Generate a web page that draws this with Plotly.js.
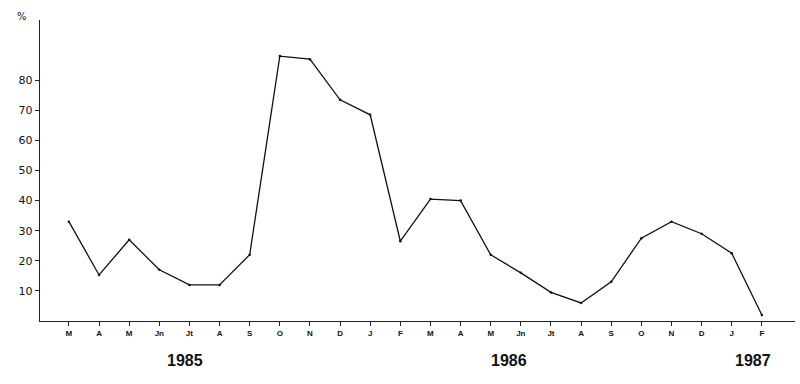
<!DOCTYPE html>
<html>
<head>
<meta charset="utf-8">
<script src="https://cdn.plot.ly/plotly-3.0.1.min.js"></script>
<style>html,body{margin:0;padding:0;background:#fff;}#chart{width:800px;height:384px;}</style>
</head>
<body>
<div id="chart"></div>
<script>
const monthLabels = ["M","A","M","Jn","Jt","A","S","O","N","D","J","F","M","A","M","Jn","Jt","A","S","O","N","D","J","F"];
const percentValues = [33,15.3,27,17,12,12,22,88,87,73.5,68.5,26.5,40.5,40,22,16,9.5,6,13,27.5,33,29,22.5,2];
const yearLabels = ["1985","1986","1987"];
const yearPositions = [3.85,14.6,22.7];
const yTicks = [10,20,30,40,50,60,70,80];

const xIdx = monthLabels.map((_, i) => i);

const trace = {
  x: xIdx,
  y: percentValues,
  type: 'scatter',
  mode: 'lines+markers',
  line: {color: '#111', width: 1.3},
  marker: {color: '#111', size: 2.5},
  hoverinfo: 'skip'
};

const annotations = yearLabels.map((t, i) => ({
  x: yearPositions[i], xref: 'x', y: -0.13, yref: 'paper',
  text: '<b>' + t + '</b>', showarrow: false, xanchor: 'center', yanchor: 'middle',
  font: {family: 'Liberation Sans, Arial, sans-serif', size: 16, color: '#111'}
}));
annotations.push({
  x: -0.024, xref: 'paper', y: 1.01, yref: 'paper', text: '%', showarrow: false,
  xanchor: 'center', yanchor: 'middle',
  font: {family: 'DejaVu Sans, sans-serif', size: 10, color: '#111'}
});

const layout = {
  width: 800, height: 384,
  margin: {l: 40, r: 5, t: 20, b: 63},
  paper_bgcolor: '#fff', plot_bgcolor: '#fff',
  showlegend: false,
  xaxis: {
    range: [-0.96, 24.1],
    tickvals: xIdx, ticktext: monthLabels,
    showgrid: false, zeroline: false,
    showline: true, linecolor: '#222', linewidth: 1.3,
    ticks: 'outside', ticklen: 4, tickcolor: '#222', tickwidth: 1,
    tickfont: {family: 'Liberation Sans, Arial, sans-serif', size: 8, color: '#111', weight: 'bold'},
    fixedrange: true
  },
  yaxis: {
    range: [0, 100],
    tickvals: yTicks,
    showgrid: false, zeroline: false,
    showline: true, linecolor: '#222', linewidth: 1.3,
    ticks: 'outside', ticklen: 4, tickcolor: '#222', tickwidth: 1,
    tickfont: {family: 'DejaVu Sans, sans-serif', size: 11, color: '#111'},
    fixedrange: true
  },
  annotations: annotations
};

Plotly.newPlot('chart', [trace], layout, {displayModeBar: false, staticPlot: true});
</script>
</body>
</html>
